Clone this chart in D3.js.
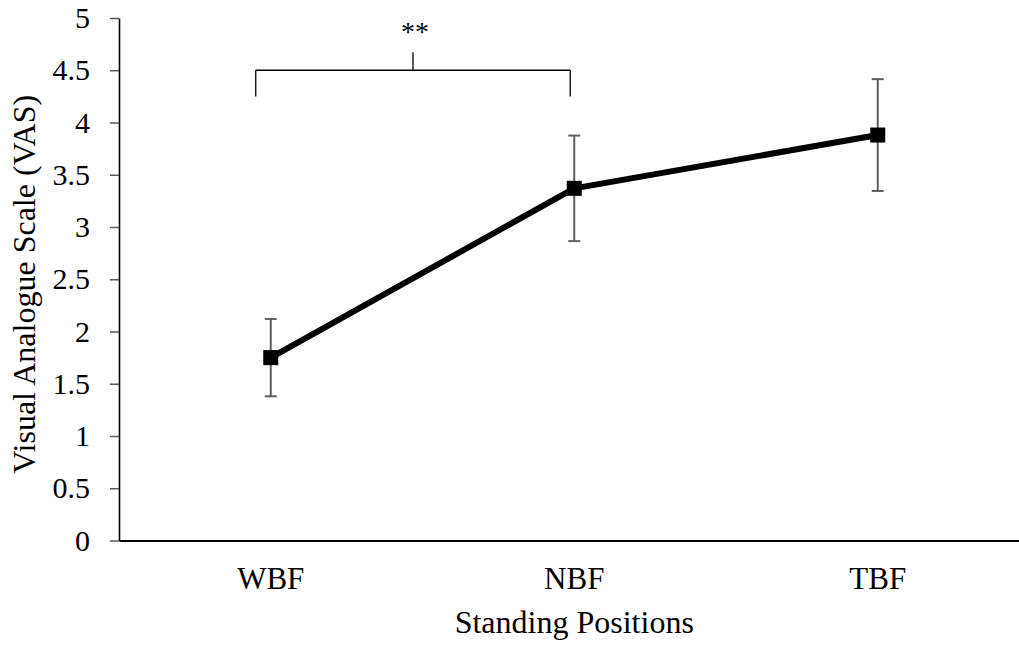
<!DOCTYPE html>
<html>
<head>
<meta charset="utf-8">
<script src="https://cdn.jsdelivr.net/npm/d3@7"></script>
<style>
  body { margin: 0; background: #fff; }
  svg { display: block; }
  svg text { font-family: "Liberation Serif", "Times New Roman", serif; }
</style>
</head>
<body>
<svg id="chart" width="1019" height="647"></svg>
<script>
// data
const categories = ["WBF", "NBF", "TBF"];
const meanVas = [1.75, 3.37, 3.88];
const errVas = [0.37, 0.505, 0.535];
const yTicks = [0, 0.5, 1, 1.5, 2, 2.5, 3, 3.5, 4, 4.5, 5];
const sigPairs = [{ from: "WBF", to: "NBF", level: 4.5, drop: 0.25, label: "**" }];

const svg = d3.select("#chart");
const plotLeft = 119, plotTop = 18, plotBottom = 540.5, plotRight = 1029.5;

let x = d3.scaleBand().domain(categories).range([plotLeft, plotRight]).padding(0);
let y = d3.scaleLinear().domain([0, 5]).range([plotBottom, plotTop]);
let cx = c => x(c) + x.bandwidth() / 2;

// y axis
let yAxis = svg.append("g")
    .attr("transform", `translate(${plotLeft},0)`)
    .call(d3.axisLeft(y).tickValues(yTicks).tickFormat(d3.format("~g"))
        .tickSizeInner(9).tickSizeOuter(0).tickPadding(20));
yAxis.attr("font-family", null);
yAxis.select(".domain").attr("stroke", "#000").attr("stroke-width", 1.6);
yAxis.selectAll(".tick line").attr("stroke", "#595959").attr("stroke-width", 1.5);
yAxis.selectAll(".tick text").attr("font-size", 30).attr("fill", "#000");

// x axis
let xAxis = svg.append("g")
    .attr("transform", `translate(0,${plotBottom})`)
    .call(d3.axisBottom(x).tickSize(0).tickPadding(26));
xAxis.attr("font-family", null);
xAxis.select(".domain").attr("stroke", "#000").attr("stroke-width", 2);
xAxis.selectAll(".tick text").attr("font-size", 31).attr("fill", "#000");

// axis titles
svg.append("text")
    .attr("x", (plotLeft + plotRight) / 2).attr("y", 633)
    .attr("text-anchor", "middle").attr("font-size", 32)
    .text("Standing Positions");

svg.append("text")
    .attr("transform", `translate(35,${(plotTop + plotBottom) / 2 + 5}) rotate(-90)`)
    .attr("text-anchor", "middle").attr("font-size", 32)
    .text("Visual Analogue Scale (VAS)");

let rows = categories.map((c, i) => ({ c: c, m: meanVas[i], e: errVas[i] }));

// error bars
let eb = svg.append("g").attr("stroke", "#5f5f5f").attr("stroke-width", 2);
eb.selectAll("line.v").data(rows).join("line").attr("class", "v")
    .attr("x1", d => cx(d.c)).attr("x2", d => cx(d.c))
    .attr("y1", d => y(d.m + d.e)).attr("y2", d => y(d.m - d.e));
eb.selectAll("line.cap-top").data(rows).join("line").attr("class", "cap-top")
    .attr("x1", d => cx(d.c) - 6).attr("x2", d => cx(d.c) + 6)
    .attr("y1", d => y(d.m + d.e)).attr("y2", d => y(d.m + d.e));
eb.selectAll("line.cap-bot").data(rows).join("line").attr("class", "cap-bot")
    .attr("x1", d => cx(d.c) - 6).attr("x2", d => cx(d.c) + 6)
    .attr("y1", d => y(d.m - d.e)).attr("y2", d => y(d.m - d.e));

// mean line
let line = d3.line().x(d => cx(d.c)).y(d => y(d.m));
svg.append("path").datum(rows)
    .attr("d", line).attr("fill", "none")
    .attr("stroke", "#000").attr("stroke-width", 6).attr("stroke-linejoin", "round");

// square markers
const ms = 15;
svg.selectAll("rect.marker").data(rows).join("rect").attr("class", "marker")
    .attr("x", d => cx(d.c) - ms / 2).attr("y", d => y(d.m) - ms / 2)
    .attr("width", ms).attr("height", ms).attr("fill", "#000");

// significance bracket
sigPairs.forEach(p => {
    let x1 = cx(p.from) - 15, x2 = cx(p.to) - 4;
    let mid = (x1 + x2) / 2;
    let g = svg.append("g").attr("stroke", "#000").attr("stroke-width", 1.3);
    g.append("line").attr("x1", x1).attr("x2", x2).attr("y1", y(p.level)).attr("y2", y(p.level));
    g.append("line").attr("x1", x1).attr("x2", x1).attr("y1", y(p.level)).attr("y2", y(p.level - p.drop));
    g.append("line").attr("x1", x2).attr("x2", x2).attr("y1", y(p.level)).attr("y2", y(p.level - p.drop));
    g.append("line").attr("x1", mid).attr("x2", mid).attr("y1", y(p.level)).attr("y2", y(p.level) - 18);
    svg.append("text").attr("x", mid + 2).attr("y", 41)
        .attr("text-anchor", "middle").attr("font-size", 28)
        .text(p.label);
});
</script>
</body>
</html>
